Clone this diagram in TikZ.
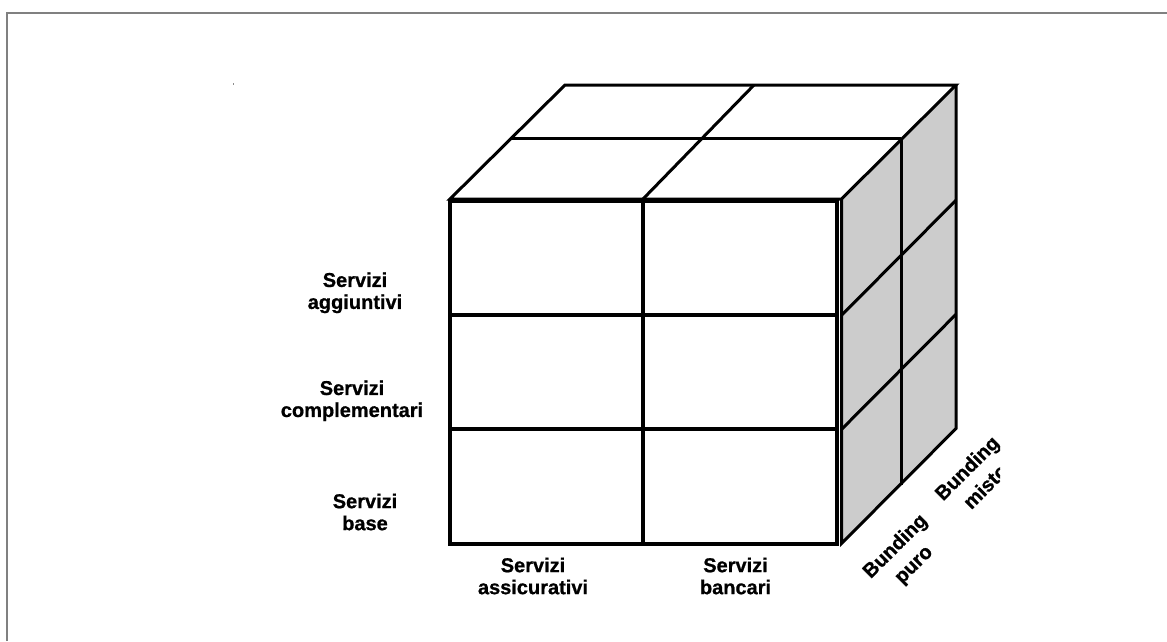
\documentclass[tikz,border=0pt]{standalone}
\usepackage{fontspec}
\setmainfont{Liberation Sans}[BoldFeatures={FakeBold=0.8}]
\begin{document}
\begin{tikzpicture}[x=1pt,y=-1pt,
  frontline/.style={line width=4pt, line join=miter},
  cubeline/.style={line width=3pt, line join=miter},
  sideface/.style={fill=black!20},
  lbl/.style={font=\fontsize{20}{22}\selectfont\bfseries, align=center, inner sep=0pt},
  rlbl/.style={font=\fontsize{20}{26}\selectfont\bfseries, align=center, inner sep=0pt, rotate=45},
  frame/.style={draw=black!50, line width=1.2pt}]
\useasboundingbox (0,0) rectangle (1167,641);
\fill[white] (0,0) rectangle (1167,641);
\draw[frame] (7,641) -- (7,13) -- (1167,13);
\fill[black!45] (232.5,82.5) rectangle (233.5,84.5);

% corners
\coordinate (FTL) at (450,201);
\coordinate (FBR) at (837,543.5);
\coordinate (TFL) at (450,199);
\coordinate (TBL) at (565,85);
\coordinate (STF) at (841.5,199);
\coordinate (SBF) at (841.5,543.5);
\coordinate (STB) at (956,85);
\coordinate (SBB) at (956,428.5);

% side face
\fill[sideface] (STF) -- (STB) -- (SBB) -- (SBF) -- cycle;

% top face
\draw[cubeline] (TFL) -- (TBL) -- (STB) -- (STF) -- cycle;
\coordinate (TML) at (512,138);
\coordinate (TMR) at (901,138);
\draw[cubeline] (TML) -- (TMR);
\coordinate (TDF) at (643,199);
\coordinate (TDB) at (754,85);
\draw[cubeline] (TDF) -- (TDB);

% side face lines
\draw[cubeline] (STF) -- (SBF) -- (SBB) -- (STB);
\coordinate (SMB) at (901,484.5);
\draw[cubeline] (TMR) -- (SMB);
\coordinate (SD1F) at (841.5,315.3);
\coordinate (SD1B) at (956,200.2);
\coordinate (SD2F) at (841.5,429.4);
\coordinate (SD2B) at (956,314.3);
\draw[cubeline] (SD1F) -- (SD1B);
\draw[cubeline] (SD2F) -- (SD2B);

% front face
\draw[frontline] (FTL) rectangle (FBR);
\coordinate (R1L) at (450,315.3); \coordinate (R1R) at (837,315.3);
\coordinate (R2L) at (450,429.4); \coordinate (R2R) at (837,429.4);
\coordinate (CT) at (643,201); \coordinate (CB) at (643,543.5);
\draw[frontline] (R1L) -- (R1R);
\draw[frontline] (R2L) -- (R2R);
\draw[frontline] (CT) -- (CB);

% labels
\node[lbl] (agg) at (355,292.8) {Servizi\\aggiuntivi};
\node[lbl] (compl) at (352,400.8) {Servizi\\complementari};
\node[lbl] (lbase) at (365,512) {Servizi\\base};
\node[lbl] (assic) at (533,576) {Servizi\\assicurativi};
\node[lbl] (banc) at (735.5,576) {Servizi\\bancari};
\node[rlbl] (puro) at (905,556) {Bunding\\puro};
\begin{scope}
\clip (0,0) rectangle (1000,641);
\node[rlbl] (misto) at (976,477) {Bunding\\misto};
\end{scope}
\end{tikzpicture}
\end{document}
